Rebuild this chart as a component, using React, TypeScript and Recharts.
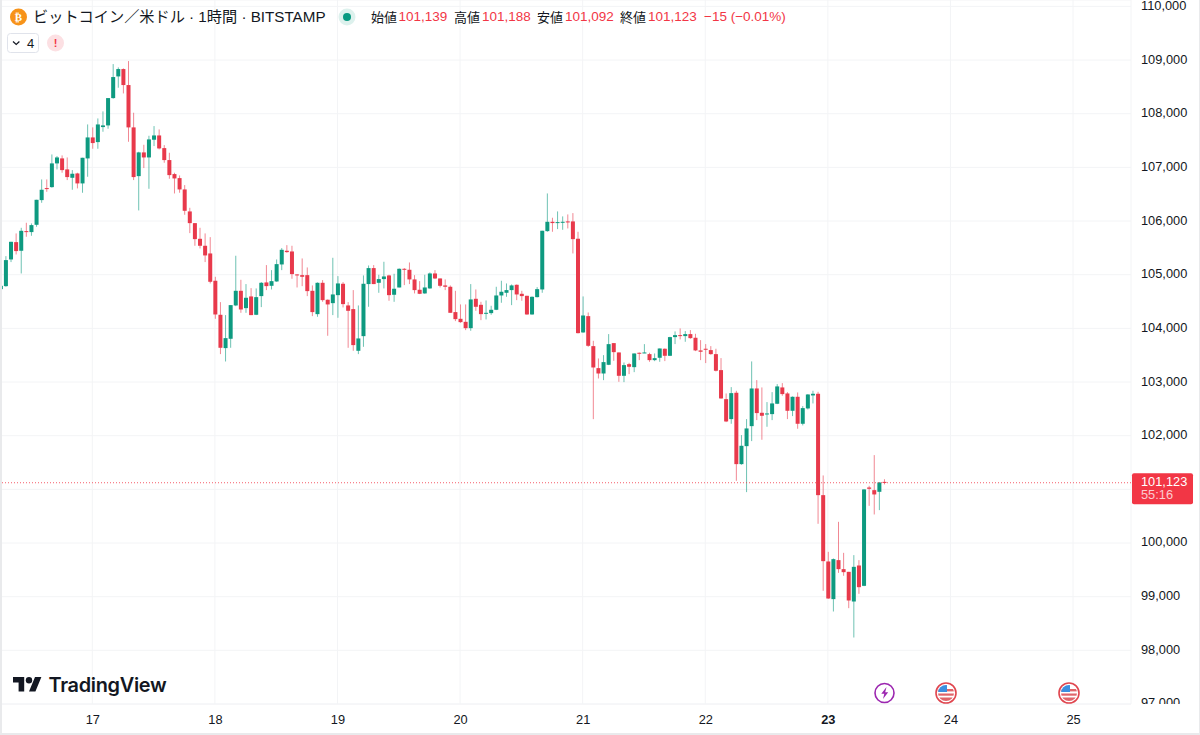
import { Bar, CartesianGrid, ComposedChart, ReferenceLine, XAxis, YAxis } from "recharts";

const FONT = "'Liberation Sans', 'Noto Sans CJK JP', sans-serif";
const LOGO_FONT = "Inter, sans-serif";
const UP = "#0E9A80";
const DOWN = "#E8394B";
const TAG = "#F23645";
const INK = "#131722";

// 1 hour candles, first one is the 16th 06:00
const firstHour = 6;

const opens = [
  104731, 104787, 105284, 105607, 105446, 105812, 105794, 105930, 106390, 106614, 106632, 107074,
  107167, 106962, 106806, 106887, 106701, 107167, 107558, 107471, 107751, 107782, 108291, 108695,
  108832, 108534, 107745, 106837, 107279, 107185, 107515, 107595, 107359, 107136, 106875, 106800,
  106589, 106179, 105961, 105669, 105539, 105396, 104887, 104253, 103632, 103806, 104427, 104700,
  104377, 104595, 104253, 104601, 104856, 104793, 104874, 105191, 105446, 105433, 105005, 104992,
  104992, 104700, 104265, 104849, 104533, 104470, 104619, 104831, 104427, 104359, 103582, 103855,
  104825, 105123, 104849, 104918, 104986, 104626, 104762, 105110, 105092, 104912, 104719, 104651,
  104744, 105023, 104930, 104800, 104775, 104303, 104178, 104122, 104004, 104551, 104439, 104278,
  104284, 104346, 104613, 104663, 104713, 104812, 104644, 104607, 104259, 104582, 104725, 105812,
  105986, 105962, 105974, 105993, 105993, 105670, 103924, 104228, 103669, 103259, 103159, 103321,
  103725, 103551, 103116, 103333, 103277, 103545, 103538, 103520, 103408, 103452, 103620, 103489,
  103837, 103874, 103856, 103893, 103825, 103589, 103620, 103595, 103520, 103222, 102681, 102309,
  102800, 101470, 101805, 102178, 102880, 102427, 102402, 102402, 102595, 102899, 102787, 102464,
  102725, 102222, 102508, 102750, 102781, 100892, 99656, 98954, 99681, 99513, 99463, 98910,
  99581, 99202, 101035, 100985, 100954, 101139,
];

const highs = [
  104818, 105346, 105613, 105769, 105874, 105968, 105955, 106396, 106775, 106775, 107241, 107210,
  107223, 107185, 106949, 106900, 107179, 107800, 107745, 107912, 108043, 108291, 108925, 108863,
  108844, 108981, 108018, 107291, 107421, 107589, 107769, 107707, 107415, 107272, 106900, 106850,
  106670, 106247, 105961, 105874, 105769, 105700, 104961, 104489, 104247, 104433, 105353, 104905,
  104825, 104750, 104744, 104862, 105179, 105085, 105284, 105496, 105551, 105539, 105011, 105303,
  105135, 104800, 104856, 104899, 104539, 105315, 104974, 104862, 104489, 104713, 104427, 104986,
  105172, 105179, 104999, 105241, 104999, 105017, 105117, 105123, 105228, 104992, 104880, 104999,
  105042, 105085, 104930, 104912, 104800, 104700, 104446, 104446, 104825, 104725, 104495, 104520,
  104421, 104775, 104887, 104837, 104818, 104818, 104700, 104607, 104595, 104769, 105819, 106514,
  106061, 106179, 106086, 106123, 106148, 105800, 104595, 104296, 103768, 103439, 103501, 103893,
  103725, 103551, 103364, 103358, 103532, 103551, 103706, 103545, 103532, 103625, 103626, 103843,
  103943, 103999, 103949, 103968, 103899, 103781, 103707, 103669, 103620, 103446, 102787, 102905,
  102837, 102011, 102309, 103384, 103036, 102899, 102626, 102812, 102961, 102980, 102812, 102731,
  102806, 102551, 102775, 102837, 102818, 101259, 99836, 99712, 100395, 99817, 99463, 99774,
  99681, 101004, 101066, 101638, 101134, 101188,
];

const lows = [
  104731, 104775, 105235, 105377, 105023, 105707, 105725, 105893, 106340, 106545, 106620, 106962,
  106900, 106763, 106583, 106608, 106527, 106825, 107347, 107347, 107664, 107720, 108279, 108484,
  108378, 107477, 106763, 106198, 106987, 106601, 107397, 107335, 107086, 106788, 106514, 106527,
  106117, 105775, 105539, 105489, 105235, 104837, 104178, 103520, 103383, 103638, 104414, 104290,
  104290, 104247, 104247, 104396, 104713, 104725, 104868, 105085, 105409, 104924, 104762, 104787,
  104601, 104228, 104216, 104495, 103862, 104247, 104197, 104390, 103638, 103582, 103520, 103656,
  104402, 104825, 104663, 104744, 104514, 104495, 104762, 104806, 104825, 104651, 104638, 104644,
  104738, 104918, 104762, 104713, 104290, 104135, 104104, 103967, 103955, 104327, 104153, 104166,
  104253, 104340, 104477, 104588, 104433, 104526, 104514, 104253, 104253, 104576, 104663, 105800,
  105800, 105850, 105837, 105862, 105396, 103905, 103917, 103656, 102308, 103066, 103035, 103315,
  103395, 103004, 102998, 103147, 103184, 103408, 103538, 103377, 103389, 103377, 103390, 103483,
  103707, 103794, 103750, 103806, 103576, 103408, 103353, 103508, 103197, 102688, 102253, 102222,
  101159, 101458, 100948, 101899, 102290, 101924, 102166, 102290, 102588, 102744, 102309, 102365,
  102129, 102191, 102489, 102601, 100358, 99109, 98960, 98724, 99444, 99389, 98786, 98239,
  99053, 99196, 100693, 100532, 100613, 101092,
];

const closes = [
  104793, 105272, 105613, 105440, 105818, 105794, 105924, 106396, 106583, 106601, 107074, 107185,
  106949, 106819, 106881, 106701, 107179, 107558, 107453, 107800, 107782, 108291, 108683, 108832,
  108534, 107745, 106819, 107279, 107185, 107521, 107595, 107353, 107136, 106856, 106794, 106589,
  106191, 105961, 105663, 105539, 105359, 104868, 104259, 103638, 103818, 104433, 104700, 104352,
  104570, 104247, 104582, 104849, 104787, 104880, 105197, 105464, 105421, 105011, 104992, 104961,
  104694, 104303, 104849, 104526, 104446, 104632, 104837, 104452, 104327, 103688, 103812, 104831,
  105123, 104825, 104918, 104967, 104619, 104738, 105110, 105092, 104912, 104713, 104644, 104762,
  105023, 104930, 104793, 104775, 104290, 104172, 104116, 104004, 104539, 104402, 104265, 104290,
  104346, 104613, 104682, 104713, 104800, 104632, 104601, 104259, 104588, 104731, 105819, 105986,
  105962, 105980, 105986, 105974, 105663, 103911, 104240, 103675, 103271, 103159, 103371, 103706,
  103557, 103116, 103315, 103284, 103532, 103532, 103551, 103408, 103445, 103625, 103489, 103837,
  103874, 103862, 103893, 103818, 103589, 103564, 103601, 103520, 103210, 102694, 102265, 102793,
  101470, 101812, 102135, 102880, 102421, 102371, 102414, 102601, 102918, 102775, 102464, 102725,
  102222, 102514, 102768, 102781, 100892, 99662, 98966, 99699, 99513, 99457, 98929, 99556,
  99177, 100998, 101010, 100905, 101128, 101123,
];

const priceTicks = [
  97000, 98000, 99000, 100000, 101000, 102000, 103000, 104000, 105000, 106000, 107000, 108000,
  109000, 110000,
];
// the price tag sits over this label in the original, only its grid line shows
const hiddenPriceLabel = 101000;
const hourTicks = [24, 48, 72, 96, 120, 144, 168, 192, 216];
const dayLabels = ["17", "18", "19", "20", "21", "22", "23", "24", "25"];
const boldDay = "23";

const lastPrice = 101123;
const countdown = "55:16";

const title = "ビットコイン／米ドル · 1時間 · BITSTAMP";
const ohlcNames = ["始値", "高値", "安値", "終値"];
const ohlcValues = ["101,139", "101,188", "101,092", "101,123"];
const change = "−15 (−0.01%)";

const rows = opens.map((open, i) => ({
  hour: firstHour + i,
  open,
  high: highs[i],
  low: lows[i],
  close: closes[i],
  range: [lows[i], highs[i]],
}));

const Candle = (props: any) => {
  const { x, y, width, height, payload } = props;
  const { open, high, low, close } = payload;
  const perPrice = height / (high - low);
  const top = y + (high - Math.max(open, close)) * perPrice;
  const bodyHeight = Math.max(Math.abs(open - close) * perPrice, 1);
  const color = close >= open ? UP : DOWN;
  const mid = x + width / 2;
  return (
    <g>
      <line x1={mid} x2={mid} y1={y} y2={y + height} stroke={color} strokeWidth={1} strokeOpacity={0.6} />
      <rect x={x} y={top} width={width} height={bodyHeight} fill={color} />
    </g>
  );
};

const PriceTick = (props: any) => {
  const { x, y, payload } = props;
  if (payload.value === hiddenPriceLabel) return <g />;
  const id = `price-clip-${payload.value}`;
  return (
    <g>
      <clipPath id={id}>
        <rect x={1132} y={0} width={68} height={704} />
      </clipPath>
      <text
        x={x + 4}
        y={y - 1}
        dy="0.35em"
        clipPath={`url(#${id})`}
        fontFamily={FONT}
        fontSize={12.8}
        fill={INK}
      >
        {payload.value.toLocaleString("en-US")}
      </text>
    </g>
  );
};

const DayTick = (props: any) => {
  const { x, y, payload } = props;
  const label = dayLabels[hourTicks.indexOf(payload.value)];
  return (
    <text
      x={x + 0.5}
      y={y}
      dy="0.35em"
      textAnchor="middle"
      fontFamily={FONT}
      fontSize={12.8}
      fontWeight={label === boldDay ? 700 : 400}
      fill={INK}
    >
      {label}
    </text>
  );
};

const PriceTag = (props: any) => {
  const lineY = props.viewBox.y;
  return (
    <g fontFamily={FONT} fontSize={12.8}>
      <rect x={1132} y={lineY - 9.5} width={61} height={31} rx={2} fill={TAG} />
      <text x={1141} y={lineY - 1} dy="0.35em" fill="#fff">
        {lastPrice.toLocaleString("en-US")}
      </text>
      <text x={1141} y={lineY + 12} dy="0.35em" fill="#fff" fillOpacity={0.75}>
        {countdown}
      </text>
    </g>
  );
};

const FlagIcon = ({ cx, id }: { cx: number; id: string }) => (
  <g>
    <clipPath id={id}>
      <circle cx={cx} cy={693} r={8} />
    </clipPath>
    <circle cx={cx} cy={693} r={10} fill="#fff" stroke="#E0464F" strokeWidth={1.6} />
    <g clipPath={`url(#${id})`}>
      <rect x={cx - 9} y={684} width={18} height={10} fill="#fff" />
      <rect x={cx - 9} y={689} width={18} height={2.4} fill="#E0646A" />
      <rect x={cx - 9} y={693.5} width={18} height={2.2} fill="#E0646A" />
      <rect x={cx - 9} y={697.5} width={18} height={4} fill="#E0646A" />
      <rect x={cx - 9} y={684} width={10} height={8} fill="#3C8FE0" />
    </g>
  </g>
);

const headerText = (x: number, text: string, color: string, size = 13.5) => (
  <span
    key={`${x}`}
    style={{
      position: "absolute",
      left: x,
      top: 17,
      transform: "translateY(-50%)",
      color,
      fontSize: size,
      whiteSpace: "nowrap",
      lineHeight: 1,
    }}
  >
    {text}
  </span>
);

const nameX = [371, 454, 537, 620];
const valueX = [398.5, 482, 565, 648];

const App = () => (
  <div
    style={{
      position: "absolute",
      left: 0,
      top: 0,
      width: 1200,
      height: 735,
      overflow: "hidden",
      background: "#fff",
      fontFamily: FONT,
    }}
  >
    <ComposedChart
      width={1200}
      height={735}
      data={rows}
      margin={{ top: 0, right: 0, bottom: 0, left: 0 }}
    >
      <CartesianGrid stroke="#F3F4F6" strokeWidth={1} />
      <XAxis
        dataKey="hour"
        type="number"
        domain={[5.93, 227.35]}
        allowDataOverflow
        ticks={hourTicks}
        tick={<DayTick />}
        tickLine={false}
        axisLine={{ stroke: "#F3F4F6" }}
        height={31}
        tickMargin={10}
        interval={0}
      />
      <YAxis
        orientation="right"
        type="number"
        domain={[97000, 110119]}
        allowDataOverflow
        ticks={priceTicks}
        tick={<PriceTick />}
        tickLine={false}
        axisLine={false}
        width={69}
        tickMargin={0}
        interval={0}
      />
      <ReferenceLine
        y={lastPrice}
        stroke={TAG}
        strokeOpacity={0.8}
        strokeDasharray="1 2"
        label={<PriceTag />}
      />
      <Bar dataKey="range" barSize={4} shape={<Candle />} isAnimationActive={false} />
    </ComposedChart>

    {/* legend, logo and event icons on top of the chart */}
    <svg
      width={1200}
      height={735}
      style={{ position: "absolute", left: 0, top: 0, pointerEvents: "none" }}
    >
      <circle cx={18.5} cy={17} r={8.5} fill="#F7931A" />
      <text x={18.5} y={17} dy="0.36em" textAnchor="middle" fontSize={11} fontWeight={700} fill="#fff" fontFamily="'DejaVu Sans'">
        ₿
      </text>
      <circle cx={347} cy={17} r={8.5} fill="#DDF1ED" />
      <circle cx={347} cy={17} r={4} fill="#089981" />

      <rect x={7.5} y={33.5} width={31} height={19} rx={3} fill="#fff" stroke="#E0E3EB" />
      <path d="M13 41.5l3.2 3 3.2-3" fill="none" stroke={INK} strokeWidth={1.2} />
      <text x={27} y={43} dy="0.36em" fontSize={13} fill={INK} fontFamily={FONT}>
        4
      </text>
      <circle cx={55.5} cy={43} r={8.5} fill="#FCE0E3" />
      <text x={55.5} y={43} dy="0.36em" textAnchor="middle" fontSize={11} fontWeight={700} fill={TAG} fontFamily={FONT}>
        !
      </text>

      <g transform="translate(13 673.8) scale(0.8)" fill="#131722">
        <path d="M14 22H7V11H0V4h14v18zM28 22h-8l7.5-18h8L28 22z" />
        <circle cx={20} cy={8} r={4} />
      </g>
      <text x={48.5} y={692} fontSize={19.9} fontWeight={600} fill="#131722" fontFamily={LOGO_FONT} letterSpacing={-0.3}>
        TradingView
      </text>

      <circle cx={884.5} cy={693} r={9.5} fill="#fff" stroke="#9C27B0" strokeWidth={1.6} />
      <path d="M886.5 687l-5.2 6.8h3l-1.3 5.2 5.2-6.8h-3z" fill="#9C27B0" />
      <FlagIcon cx={946} id="flag-24" />
      <FlagIcon cx={1069} id="flag-25" />
    </svg>

    {headerText(33, title, INK, 15.2)}
    {ohlcNames.map((name, i) => headerText(nameX[i], name, INK, 13))}
    {ohlcValues.map((value, i) => headerText(valueX[i], value, TAG))}
    {headerText(704, change, TAG)}

    {/* window frame */}
    <div style={{ position: "absolute", left: 0, top: 0, bottom: 0, width: 1.5, background: "#E9EAEC" }} />
    <div style={{ position: "absolute", right: 0, top: 0, bottom: 0, width: 1.5, background: "#E9EAEC" }} />
    <div style={{ position: "absolute", left: 0, right: 0, bottom: 0, height: 2.5, background: "#E9EAEC" }} />
  </div>
);

export default App;
